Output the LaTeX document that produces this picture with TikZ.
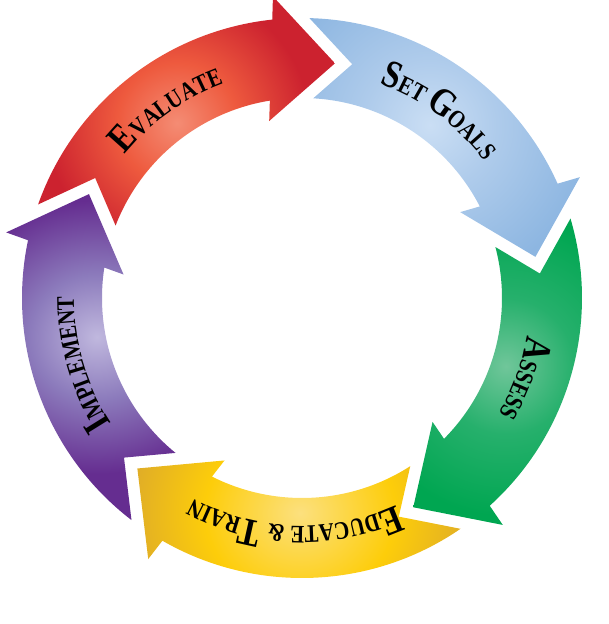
\documentclass[tikz,border=0pt]{standalone}
\usepackage{fontspec}
\setmainfont{Liberation Serif}
\newfontfamily\cyclefont[FakeStretch=0.82]{Liberation Serif}
\usetikzlibrary{decorations.text}

\definecolor{evalLight}{HTML}{F48C74}
\definecolor{evalMid}{HTML}{EE5A3E}
\definecolor{evalDark}{HTML}{CC222F}
\definecolor{goalLight}{HTML}{CADEF4}
\definecolor{goalMid}{HTML}{AECBEB}
\definecolor{goalDark}{HTML}{8DB6E1}
\definecolor{assessLight}{HTML}{70C69A}
\definecolor{assessMid}{HTML}{26B06C}
\definecolor{assessDark}{HTML}{00A651}
\definecolor{trainLight}{HTML}{FCE07E}
\definecolor{trainMid}{HTML}{FDCD0A}
\definecolor{trainDark}{HTML}{DDAA2A}
\definecolor{implLight}{HTML}{C0B8DE}
\definecolor{implMid}{HTML}{8C7BBC}
\definecolor{implDark}{HTML}{652D90}

% 25bp of a shading is the radius of the shaded circle (300 units)
\pgfdeclareradialshading{evalGlow}{\pgfpointorigin}{color(0bp)=(evalLight); color(5bp)=(evalMid); color(11bp)=(evalDark); color(50bp)=(evalDark)}
\pgfdeclareradialshading{goalGlow}{\pgfpointorigin}{color(0bp)=(goalLight); color(5bp)=(goalMid); color(12bp)=(goalDark); color(50bp)=(goalDark)}
\pgfdeclareradialshading{assessGlow}{\pgfpointorigin}{color(0bp)=(assessLight); color(5bp)=(assessMid); color(11bp)=(assessDark); color(50bp)=(assessDark)}
\pgfdeclareradialshading{trainGlow}{\pgfpointorigin}{color(0bp)=(trainLight); color(7bp)=(trainMid); color(13bp)=(trainDark); color(50bp)=(trainDark)}
\pgfdeclareradialshading{implGlow}{\pgfpointorigin}{color(0bp)=(implLight); color(5bp)=(implMid); color(11bp)=(implDark); color(50bp)=(implDark)}

\newcommand{\lgcap}{\cyclefont\bfseries\fontsize{28}{28}\selectfont}
\newcommand{\smcap}{\cyclefont\bfseries\fontsize{18}{18}\selectfont}

% one arrow of the cycle, in the slot at the top left
\newcommand{\cyclearrow}{(160.48:280) arc[start angle=160.48, end angle=96.1, radius=280]
  -- (95.5:303) -- (82:237) -- (100.5:180) -- (99.25:200)
  arc[start angle=99.25, end angle=158.77, radius=200] -- (149.88:239.1) -- cycle}

\begin{document}
\begin{tikzpicture}
    [x=0.025cm, y=0.025cm,
      label/.style={decorate,decoration={text along path,text align=center,text={#1}}}
    ]
    \useasboundingbox (-302,-326) rectangle (307,298);

    \foreach \k/\glow in {0/evalGlow,1/goalGlow,2/assessGlow,3/trainGlow,4/implGlow}
    {
      \begin{scope}[rotate=-72*\k]
        \clip \cyclearrow;
        \shade [shading=\glow] (125.5:215) circle [radius=300];
      \end{scope}
    }

    \path [label={|\lgcap|E|\smcap|VALUATE}]
    (160:228) arc [start angle=160, end angle=91, radius=228];
    \path [label={|\lgcap|S|\smcap|ET |\lgcap|G|\smcap|OALS}]
    (88:228) arc [start angle=88, end angle=19, radius=228];
    \path [label={|\lgcap|A|\smcap|SSESS}]
    (15:228) arc [start angle=15, end angle=-55, radius=228];
    \path [label={|\lgcap|E|\smcap|DUCATE {\&} |\lgcap|T|\smcap|RAIN}]
    (-57:228) arc [start angle=-57, end angle=-127, radius=228];
    \path [label={|\lgcap|I|\smcap|MPLEMENT}]
    (231.5:228) arc [start angle=231.5, end angle=161.5, radius=228];
  \end{tikzpicture}
\end{document}
